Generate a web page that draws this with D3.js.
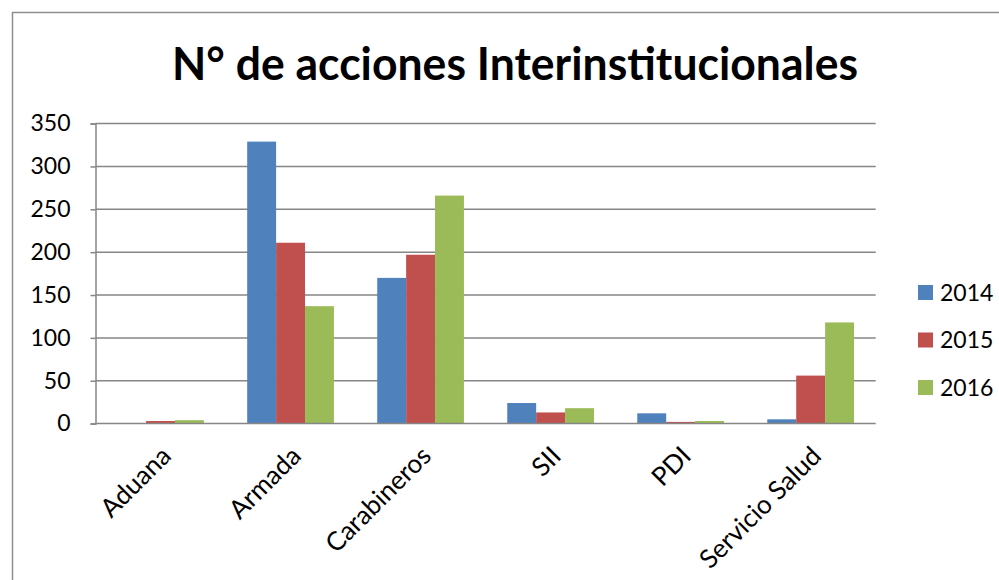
<!DOCTYPE html>
<html><head><meta charset="utf-8">
<script src="https://cdn.jsdelivr.net/npm/d3@7"></script>
<style>body{margin:0;background:#fff}svg{display:block}</style>
</head><body>
<svg id="c" width="999" height="580"></svg>
<script>
const categories = ["Aduana","Armada","Carabineros","SII","PDI","Servicio Salud"];
const seriesNames = ["2014","2015","2016"];
const v2014 = [0, 329, 170, 24, 12, 5];
const v2015 = [3, 211, 197, 13, 2, 56];
const v2016 = [4, 137, 266, 18, 3, 118];
const yTicks = [0,50,100,150,200,250,300,350];
const titleText = "N° de acciones Interinstitucionales";
const colors = ["#4F81BD","#C0504D","#9BBB59"];

const series = [v2014, v2015, v2016];
const svg = d3.select("#c");
const font = "Lato";

// outer frame
svg.append("rect").attr("x",12.5).attr("y",12.5).attr("width",1000).attr("height",620)
  .attr("fill","none").attr("stroke","#8e8e8e").attr("stroke-width",1.5);

const L=95.5, R=875.7, T=123.6, B=423.6;
const x = d3.scaleBand().domain(categories).range([L,R]).paddingInner(0.333).paddingOuter(0.1667);
const xs = d3.scaleBand().domain(seriesNames).range([0,x.bandwidth()]);
const y = d3.scaleLinear().domain([0,350]).range([B,T]);

// gridlines
svg.append("g").selectAll("line").data(yTicks.filter(d=>d>0)).join("line")
  .attr("x1",L).attr("x2",R).attr("y1",d=>y(d)).attr("y2",d=>y(d))
  .attr("stroke","#868686").attr("stroke-width",1.5);

// bars
const g = svg.append("g");
series.forEach((vals,si)=>{
  g.selectAll(null).data(categories.map((c,i)=>({c,v:vals[i]}))).join("rect")
    .attr("x",d=>x(d.c)+xs(seriesNames[si]))
    .attr("width",xs.bandwidth())
    .attr("y",d=>y(d.v)).attr("height",d=>B-y(d.v))
    .attr("fill",colors[si]);
});

// y axis
const ya = d3.axisLeft(y).tickValues(yTicks).tickSize(5).tickPadding(20).tickFormat(d3.format("d"));
const yg = svg.append("g").attr("transform",`translate(${L},0)`).call(ya);
yg.select(".domain").attr("stroke","#868686").attr("stroke-width",1.5);
yg.selectAll(".tick line").attr("stroke","#868686").attr("stroke-width",1.5);
yg.selectAll("text").attr("font-family",font).attr("font-size",23).attr("fill","#000");

// x axis
const xa = d3.axisBottom(x).tickSize(0).tickSizeOuter(0);
const xg = svg.append("g").attr("transform",`translate(0,${B})`).call(xa);
xg.select(".domain").attr("stroke","#868686").attr("stroke-width",1.5)
  .attr("d",`M${L},0H${R}`);
xg.selectAll(".tick text")
  .attr("font-family",font).attr("font-size",26).attr("fill","#000")
  .attr("text-anchor","end").attr("y",0).attr("dy","0.71em")
  .attr("transform","translate(-1,21) rotate(-45)");

// title
svg.append("text").attr("x",515).attr("y",80).attr("text-anchor","middle")
  .attr("font-family",font).attr("font-weight","bold").attr("font-size",46)
  .attr("textLength",686).attr("lengthAdjust","spacingAndGlyphs")
  .text(titleText);

// legend
const lg = svg.append("g");
seriesNames.forEach((s,i)=>{
  const cy = 292.5 + i*47.5;
  lg.append("rect").attr("x",918).attr("y",cy-7.5).attr("width",15).attr("height",15).attr("fill",colors[i]);
  lg.append("text").attr("x",940).attr("y",cy).attr("dy","0.36em")
    .attr("font-family",font).attr("font-size",23).attr("fill","#000").text(s);
});
</script>
</body></html>
